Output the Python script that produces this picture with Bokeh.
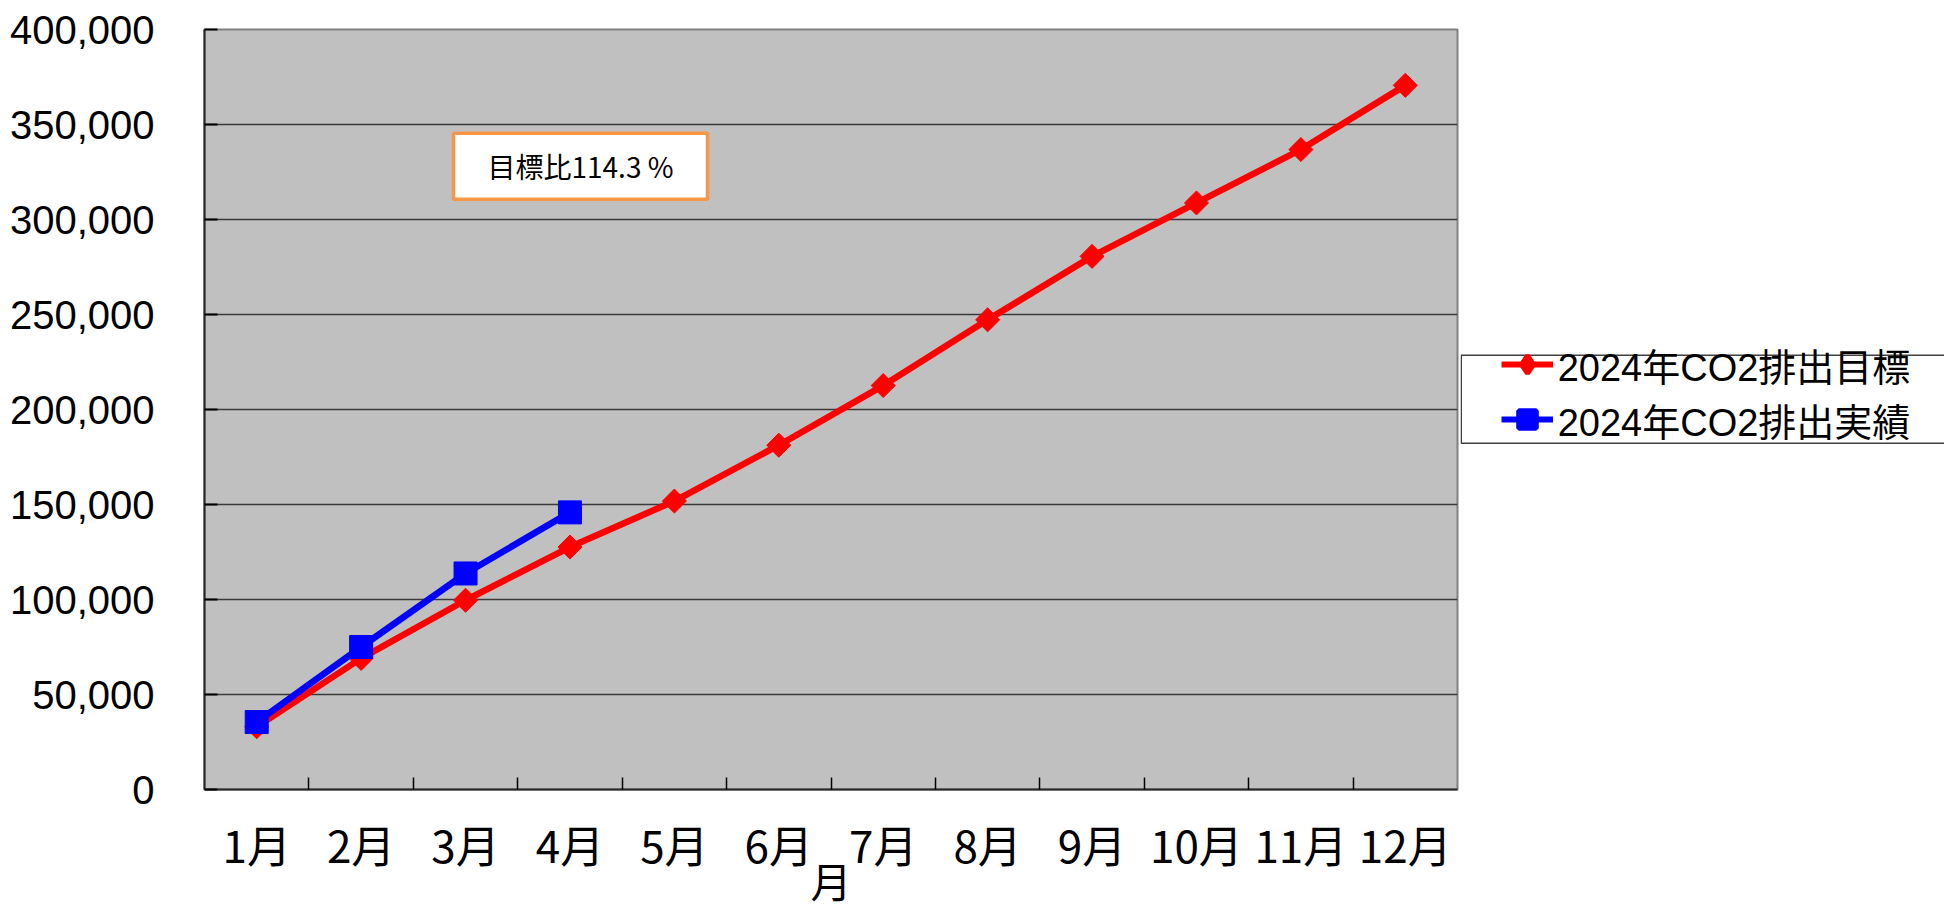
import math
from bokeh.plotting import figure
from bokeh.layouts import row
from bokeh.models import (FactorRange, Range1d, FixedTicker, LinearAxis, NumeralTickFormatter,
                          Legend, LegendItem, BoxAnnotation, Label, ColumnDataSource)
from bokeh.embed import file_html
from bokeh.resources import INLINE

# ---- data ----
months = ["1月", "2月", "3月", "4月", "5月", "6月", "7月", "8月", "9月", "10月", "11月", "12月"]
target = [33000, 69000, 99600, 127600, 151800, 181200, 212600, 247200, 280600, 308700, 336800, 370600]
actual_months = ["1月", "2月", "3月", "4月"]
actual = [35500, 75000, 113700, 145850]
y_ticks = [0, 50000, 100000, 150000, 200000, 250000, 300000, 350000, 400000]
series_names = ["2024年CO2排出目標", "2024年CO2排出実績"]
note_text = "目標比114.3 %"
x_title = "月"

CJK = "'Noto Sans CJK JP'"
LAT = "'Liberation Sans'"
NAR = "'Liberation Sans Narrow'"
RED, BLUE = "#FF0000", "#0000FF"

# ---- main chart ----
FL, FT, FW, FH = 204, 29, 1253, 760
FB = 906 - FT - FH
p = figure(x_range=FactorRange(factors=months, range_padding=0, factor_padding=0),
           y_range=Range1d(0, 400000),
           frame_width=FW, frame_height=FH,
           output_backend="svg", toolbar_location=None,
           min_border_left=FL, min_border_top=FT,
           min_border_right=3, min_border_bottom=FB)
p.background_fill_color = "#C0C0C0"
p.border_fill_color = "white"
p.outline_line_color = "#808080"
p.outline_line_width = 2

# y axis
yax = p.yaxis[0]
yax.ticker = FixedTicker(ticks=y_ticks)
yax.formatter = NumeralTickFormatter(format="0,0")
yax.major_tick_in = 13
yax.major_tick_out = 0
yax.minor_tick_in = 0
yax.minor_tick_out = 0
yax.major_tick_line_color = "black"
yax.major_tick_line_width = 2
yax.axis_line_color = "#262626"
yax.axis_line_width = 2
yax.major_label_standoff = 50
yax.major_label_text_font = LAT
yax.major_label_text_font_size = "40px"
yax.major_label_text_color = "black"

p.ygrid.ticker = FixedTicker(ticks=y_ticks)
p.ygrid.grid_line_color = "#3a3a3a"
p.ygrid.grid_line_width = 1.5
p.xgrid.visible = False

# x axis (labels)
cax = p.xaxis[0]
cax.major_tick_in = 0
cax.major_tick_out = 0
cax.axis_line_color = None
cax.major_label_standoff = 22
cax.major_label_text_font = NAR + ", " + CJK
cax.major_label_text_font_size = "44px"
cax.major_label_text_color = "black"
cax.axis_label = x_title
cax.axis_label_text_font = LAT + ", " + CJK
cax.axis_label_text_font_style = "normal"
cax.axis_label_text_font_size = "41px"
cax.axis_label_text_color = "black"
cax.axis_label_standoff = -18

# x axis (ticks between categories)
tax = LinearAxis(ticker=FixedTicker(ticks=list(range(1, len(months)))),
                 major_tick_in=12, major_tick_out=0, minor_tick_in=0, minor_tick_out=0,
                 major_label_text_font_size="0px", major_label_text_alpha=0,
                 major_label_standoff=0,
                 axis_line_color="#262626", axis_line_width=2,
                 major_tick_line_color="black", major_tick_line_width=1.5)
p.add_layout(tax, "below")
p.below = [tax, cax]

# ---- series ----
src_t = ColumnDataSource(dict(m=months, v=target))
src_a = ColumnDataSource(dict(m=actual_months, v=actual))
p.line("m", "v", source=src_t, line_color=RED, line_width=6.5, line_join="round")
p.scatter("m", "v", source=src_t, marker="square", angle=math.pi / 4, size=17,
          fill_color=RED, line_color=RED)
p.line("m", "v", source=src_a, line_color=BLUE, line_width=6.5, line_join="round")
p.scatter("m", "v", source=src_a, marker="square", size=23,
          fill_color=BLUE, line_color=BLUE)

# ---- note box ----
p.add_layout(BoxAnnotation(left=249, right=503, bottom=590.3, top=656.3,
                           left_units="screen", right_units="screen",
                           top_units="screen", bottom_units="screen",
                           fill_color="white", fill_alpha=1,
                           line_color="#F79646", line_width=3.5, line_alpha=1))
p.add_layout(Label(x=376, y=623.3, x_units="screen", y_units="screen", text=note_text,
                   text_align="center", text_baseline="middle",
                   text_font=CJK, text_font_size="28px", text_color="black"))

# ---- legend panel (separate figure at the right, same vertical frame) ----
LW = 1944 - FL - FW - 3
LEG_BOTTOM, LEG_H = 346.3, 88
lf = figure(x_range=FactorRange(factors=months), y_range=Range1d(-2, -1),
            frame_width=LW, frame_height=FH,
            output_backend="svg", toolbar_location=None,
            x_axis_location=None, y_axis_location=None,
            min_border_left=0, min_border_right=0, min_border_top=FT, min_border_bottom=FB)
lf.outline_line_color = None
lf.background_fill_color = "white"
lf.border_fill_color = "white"
for g in lf.grid:
    g.visible = False
ll1 = lf.line("m", "v", source=src_t, line_color=RED, line_width=6, line_join="round")
lm1 = lf.scatter("m", "v", source=src_t, marker="diamond", size=20,
                 fill_color=RED, line_color=RED, line_width=5)
ll2 = lf.line("m", "v", source=src_a, line_color=BLUE, line_width=6, line_join="round")
lm2 = lf.scatter("m", "v", source=src_a, marker="square", size=20,
                 fill_color=BLUE, line_color=BLUE, line_width=5)
lf.add_layout(BoxAnnotation(left=0.75, right=LW + 200, bottom=LEG_BOTTOM, top=LEG_BOTTOM + LEG_H,
                            left_units="screen", right_units="screen",
                            top_units="screen", bottom_units="screen",
                            fill_color="white", fill_alpha=1,
                            line_color="#404040", line_width=1.5, line_alpha=1))
legend = Legend(items=[LegendItem(label=series_names[0], renderers=[ll1, lm1]),
                       LegendItem(label=series_names[1], renderers=[ll2, lm2])],
                location=(40.7, LEG_BOTTOM - 4), orientation="vertical",
                padding=0, spacing=0, margin=0,
                glyph_width=52, glyph_height=44, label_height=44, label_standoff=5,
                border_line_color=None, background_fill_alpha=0,
                label_text_font=LAT + ", " + CJK, label_text_font_size="38px",
                label_text_color="black")
lf.add_layout(legend)

layout = row(p, lf)
open("out.html", "w").write(file_html(layout, INLINE))
